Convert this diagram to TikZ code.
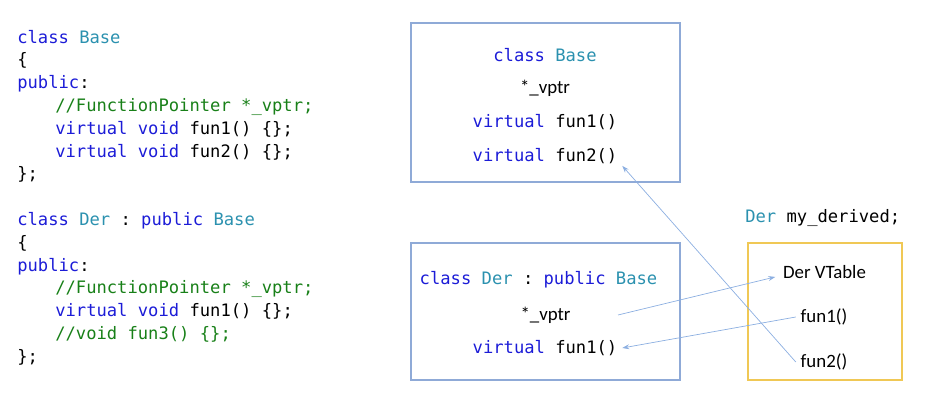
\documentclass[tikz,border=0pt]{standalone}
\usepackage{fontspec}
\setmonofont{DejaVu Sans Mono}
\newfontfamily\uifont{Carlito}
\usetikzlibrary{arrows.meta}

\definecolor{kwblue}{RGB}{28,28,215}
\definecolor{tyteal}{RGB}{43,145,175}
\definecolor{cmgreen}{RGB}{24,128,24}
\definecolor{boxblue}{RGB}{143,170,215}
\definecolor{boxgold}{RGB}{240,200,85}
\definecolor{ptrblue}{RGB}{140,175,225}

\newcommand{\codekw}[1]{\textcolor{kwblue}{#1}}
\newcommand{\codety}[1]{\textcolor{tyteal}{#1}}
\newcommand{\codecm}[1]{\textcolor{cmgreen}{#1}}

\begin{document}
\begin{tikzpicture}[x=0.025cm, y=-0.025cm,
    code/.style={anchor=mid west, inner sep=0pt, font=\ttfamily\fontsize{12.2}{14}\selectfont},
    boxcode/.style={font=\ttfamily\fontsize{12.2}{14}\selectfont},
    vt/.style={font=\uifont\fontsize{13.4}{15}\selectfont},
    frame/.style={draw=boxblue, line width=0.8pt},
    ptr/.style={draw=ptrblue, line width=0.5pt, -{Stealth[length=5pt,width=3.5pt]}}]
        \useasboundingbox (0,0) rectangle (936,405);

        % source code
        \node[code] (l0) at (17,40) {\codekw{class} \codety{Base}};
        \node[code] (l1) at (17,62.8) {\{};
        \node[code] (l2) at (17,85.6) {\codekw{public}:};
        \node[code] (l3) at (55,108.4) {\codecm{//FunctionPointer *\_vptr;}};
        \node[code] (l4) at (55,131.2) {\codekw{virtual} \codekw{void} fun1() \{\};};
        \node[code] (l5) at (55,154) {\codekw{virtual} \codekw{void} fun2() \{\};};
        \node[code] (l6) at (17,176.8) {\};};

        \node[code] (m0) at (17,222.4) {\codekw{class} \codety{Der} : \codekw{public} \codety{Base}};
        \node[code] (m1) at (17,245.2) {\{};
        \node[code] (m2) at (17,268) {\codekw{public}:};
        \node[code] (m3) at (55,290.8) {\codecm{//FunctionPointer *\_vptr;}};
        \node[code] (m4) at (55,313.6) {\codekw{virtual} \codekw{void} fun1() \{\};};
        \node[code] (m5) at (55,336.4) {\codecm{//void fun3() \{\};}};
        \node[code] (m6) at (17,359.2) {\};};

        % class Base layout
        \draw[frame] (411,23) rectangle (680,182);
        \node[boxcode] (clsB) at (545,55) {\codekw{class} \codety{Base}};
        \node[vt] (vptrB) at (545,88) {*\_vptr};
        \node[boxcode] (fun1B) at (545,122) {\codekw{virtual} fun1()};
        \node[boxcode] (fun2B) at (545,156) {\codekw{virtual} fun2()};

        % class Der layout
        \draw[frame] (411,243) rectangle (680,380);
        \node[boxcode] (clsD) at (538.5,280) {\codekw{class} \codety{Der} : \codekw{public} \codety{Base}};
        \node[vt] (vptrD) at (545.5,315) {*\_vptr};
        \node[boxcode] (fun1D) at (545,348) {\codekw{virtual} fun1()};

        % vtable
        \node[code] (obj) at (745,219) {\codety{Der} my\_derived;};
        \draw[draw=boxgold, line width=0.8pt] (748,243) rectangle (902,380);
        \node[vt] (vtab) at (824.5,272) {Der VTable};
        \node[vt] (fun1V) at (824,317) {fun1()};
        \node[vt] (fun2V) at (824,362) {fun2()};

        \coordinate (vptrout) at (618,315);
        \draw[ptr] (vptrout) -- ([xshift=-2pt,yshift=-3.5pt]vtab.west);
        \draw[ptr] (fun1V.west) -- (fun1D.east);
        \draw[ptr] (fun2V.west) -- ([yshift=2pt]fun2B.south east);
    \end{tikzpicture}
\end{document}
